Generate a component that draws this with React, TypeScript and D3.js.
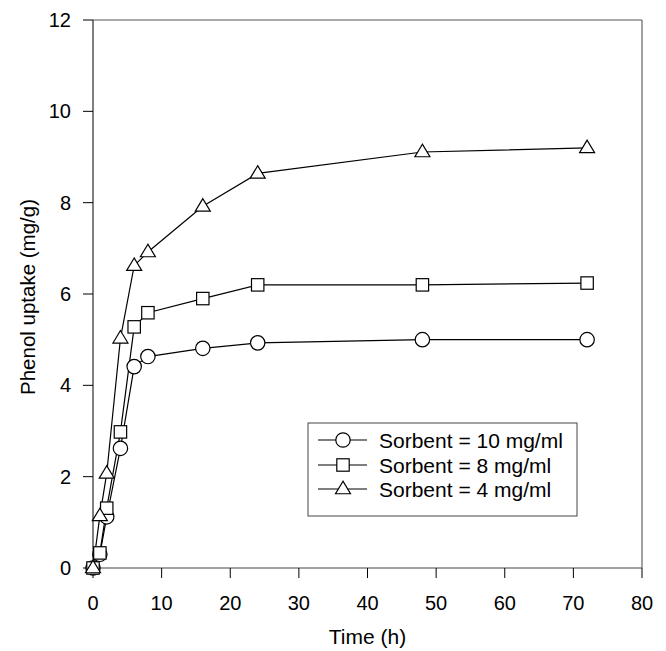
import React from "react";
import * as d3 from "d3";

const times = [0, 1, 2, 4, 6, 8, 16, 24, 48, 72];
const sorbent10 = [0, 0.3, 1.12, 2.62, 4.41, 4.63, 4.81, 4.93, 5.0, 5.0];
const sorbent8 = [0, 0.33, 1.31, 2.98, 5.28, 5.59, 5.9, 6.2, 6.2, 6.24];
const sorbent4 = [0, 1.14, 2.07, 5.03, 6.62, 6.92, 7.92, 8.64, 9.11, 9.2];
const seriesNames = ["Sorbent = 10 mg/ml", "Sorbent = 8 mg/ml", "Sorbent = 4 mg/ml"];
const seriesMarkers = ["circle", "square", "triangle"];
const xTicks = [0, 10, 20, 30, 40, 50, 60, 70, 80];
const yTicks = [0, 2, 4, 6, 8, 10, 12];

const FONT = "'Liberation Sans', Arial, Helvetica, sans-serif";

function Marker({ kind, x, y }: { kind: string; x: number; y: number }) {
  const sw = 1.2;
  if (kind === "circle") return <circle cx={x} cy={y} r={7.2} fill="white" stroke="black" strokeWidth={sw} />;
  if (kind === "square") return <rect x={x - 6.2} y={y - 6.2} width={12.4} height={12.4} fill="white" stroke="black" strokeWidth={sw} />;
  const h = 12.5, w = 15;
  const pts = `${x},${y - h * 0.62} ${x - w / 2},${y + h * 0.38} ${x + w / 2},${y + h * 0.38}`;
  return <polygon points={pts} fill="white" stroke="black" strokeWidth={sw} />;
}

export default function App() {
  const left = 93, right = 642, top = 20, bottom = 568;
  const x = d3.scaleLinear().domain([0, 80]).range([left, right]);
  const y = d3.scaleLinear().domain([0, 12]).range([bottom, top]);
  const all = [sorbent10, sorbent8, sorbent4];
  const line = d3.line<[number, number]>().x(d => x(d[0])).y(d => y(d[1]));

  const legX = 308, legY = 423, legW = 269, legH = 93;
  const rowY = [440, 465, 489];

  return (
    <svg width={666} height={651} style={{ position: "absolute", left: 0, top: 0, background: "white" }} fontFamily={FONT}>
      <rect x={0} y={0} width={666} height={651} fill="white" />
      {/* frame */}
      <line x1={left} x2={right} y1={top} y2={top} stroke="#555" strokeWidth={1} />
      <line x1={right} x2={right} y1={top} y2={bottom} stroke="#444" strokeWidth={1} />
      <line x1={left} x2={right} y1={bottom} y2={bottom} stroke="#444" strokeWidth={1} />
      <line x1={left} x2={left} y1={top} y2={bottom} stroke="black" strokeWidth={1} />
      {/* x ticks */}
      {xTicks.map(t => (
        <g key={"x" + t}>
          <line x1={x(t)} x2={x(t)} y1={bottom} y2={bottom + 10} stroke="black" strokeWidth={1} />
          <text x={x(t)} y={610} fontSize={20} textAnchor="middle">{t}</text>
        </g>
      ))}
      {/* y ticks */}
      {yTicks.map(t => (
        <g key={"y" + t}>
          <line x1={left - 10} x2={left} y1={y(t)} y2={y(t)} stroke="black" strokeWidth={1} />
          <text x={71} y={y(t) + 7} fontSize={20} textAnchor="end">{t}</text>
        </g>
      ))}
      <text x={(left + right) / 2} y={644} fontSize={21} textAnchor="middle">Time (h)</text>
      <text transform={`translate(35,${(top + bottom) / 2 + 3}) rotate(-90)`} fontSize={20.5} textAnchor="middle">Phenol uptake (mg/g)</text>
      {/* data */}
      {all.map((vals, i) => (
        <path key={"l" + i} d={line(times.map((t, j) => [t, vals[j]]) as [number, number][]) || ""} fill="none" stroke="black" strokeWidth={1.2} />
      ))}
      {all.map((vals, i) => (
        <g key={"m" + i}>
          {times.map((t, j) => <Marker key={j} kind={seriesMarkers[i]} x={x(t)} y={y(vals[j])} />)}
        </g>
      ))}
      {/* legend */}
      <rect x={legX} y={legY} width={legW} height={legH} fill="white" stroke="#444" strokeWidth={1} />
      {seriesNames.map((n, i) => (
        <g key={"lg" + i}>
          <line x1={318} x2={367} y1={rowY[i]} y2={rowY[i]} stroke="black" strokeWidth={1.2} />
          <Marker kind={seriesMarkers[i]} x={343} y={rowY[i]} />
          <text x={379} y={rowY[i] + 7.5} fontSize={21}>{n}</text>
        </g>
      ))}
    </svg>
  );
}
